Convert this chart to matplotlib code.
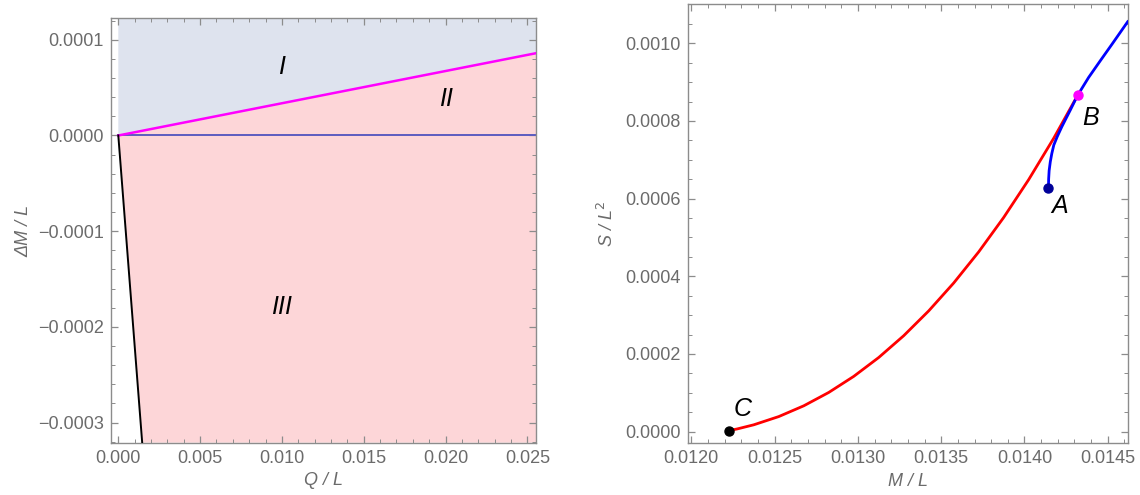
import matplotlib
matplotlib.use("Agg")
import matplotlib.pyplot as plt
from matplotlib.ticker import MultipleLocator, FuncFormatter

plt.rcParams['font.family'] = ['Liberation Sans', 'DejaVu Sans']

# ---------------- Left panel data ----------------
magenta_Q = [0.0, 0.02553]
magenta_dM = [0.0, 0.0000860]
black_Q = [0.0, 0.00146]
black_dM = [0.0, -0.000321]
zero_Q = [0.0, 0.02553]
zero_dM = [0.0, 0.0]
left_xlim = (-0.000465, 0.02553)
left_ylim = (-0.000321, 0.0001225)
region_labels = ["I", "II", "III"]
region_Q = [0.0100, 0.0200, 0.0100]
region_dM = [0.0000719, 0.0000380, -0.0001795]

# ---------------- Right panel data ----------------
red_M = [0.012225, 0.012275, 0.012375, 0.012525, 0.012675, 0.012825, 0.012975,
         0.013125, 0.013275, 0.013425, 0.013575, 0.013725, 0.013875, 0.014025,
         0.014175, 0.014319]
red_S = [0.0000026, 0.0000069, 0.0000176, 0.0000388, 0.0000665, 0.0001009,
         0.0001423, 0.0001909, 0.0002470, 0.0003109, 0.0003827, 0.0004628,
         0.0005514, 0.0006488, 0.0007551, 0.000866]
blue_M = [0.014144, 0.014145, 0.014148, 0.014155, 0.014164, 0.014176, 0.014197,
          0.014224, 0.014250, 0.014275, 0.014298, 0.014319, 0.014385, 0.014455,
          0.014526, 0.014622]
blue_S = [0.000628, 0.000650, 0.000672, 0.000695, 0.000716, 0.000738, 0.000760,
          0.000785, 0.000807, 0.000828, 0.000848, 0.000866, 0.000912, 0.000955,
          0.000998, 0.001057]
point_names = ["A", "B", "C"]
point_M = [0.014144, 0.014319, 0.012225]
point_S = [0.000628, 0.000866, 0.0000026]
point_colors = ["#000099", "#ff00ff", "#000000"]
label_M = [0.014213, 0.014399, 0.012305]
label_S = [0.000581, 0.000807, 0.0000576]
right_xlim = (0.01198, 0.014623)
right_ylim = (-0.0000301, 0.0011004)

GRAY = "#6b6b6b"
FRAME = "#8c8c8c"

fig = plt.figure(figsize=(11.4, 4.95), dpi=100)
axL = fig.add_axes([0.0971, 0.1057, 0.3731, 0.8574])
axR = fig.add_axes([0.6035, 0.1044, 0.3862, 0.8869])


def fmt(dec):
    def f(v, pos):
        s = f"{v:.{dec}f}"
        if float(s) == 0:
            s = f"{0:.{dec}f}"
        return s.replace("-", "\u2212")
    return FuncFormatter(f)


def style(ax):
    for sp in ax.spines.values():
        sp.set_color(FRAME)
        sp.set_linewidth(1.0)
    ax.tick_params(which='both', direction='in', top=True, right=True,
                   color=FRAME, labelcolor=GRAY, labelsize=13, pad=5)
    ax.tick_params(which='major', length=5, width=0.9)
    ax.tick_params(which='minor', length=3, width=0.7)


# ---------------- Left panel ----------------
ax = axL
ax.set_xlim(*left_xlim)
ax.set_ylim(*left_ylim)
ytop = left_ylim[1]
ybot = left_ylim[0]
# region I (above magenta line)
ax.fill([magenta_Q[0], magenta_Q[1], magenta_Q[1], magenta_Q[0]],
        [magenta_dM[0], magenta_dM[1], ytop, ytop],
        color="#dee3ee", lw=0, zorder=0)
# regions II + III (below magenta line, right of black line)
ax.fill([magenta_Q[0], magenta_Q[1], magenta_Q[1], black_Q[1]],
        [magenta_dM[0], magenta_dM[1], ybot, black_dM[1]],
        color="#fdd6d8", lw=0, zorder=0)
ax.plot(zero_Q, zero_dM, color="#5c5cc0", lw=1.4, zorder=2)
ax.plot(magenta_Q, magenta_dM, color="#ff00ff", lw=1.8, zorder=3)
ax.plot(black_Q, black_dM, color="black", lw=1.4, zorder=3)
for t, q, d in zip(region_labels, region_Q, region_dM):
    ax.text(q, d, t, fontsize=18, style='italic', color='black',
            ha='center', va='center')
style(ax)
ax.xaxis.set_major_locator(MultipleLocator(0.005))
ax.xaxis.set_minor_locator(MultipleLocator(0.001))
ax.yaxis.set_major_locator(MultipleLocator(0.0001))
ax.yaxis.set_minor_locator(MultipleLocator(0.00002))
ax.xaxis.set_major_formatter(fmt(3))
ax.yaxis.set_major_formatter(fmt(4))
ax.set_xlabel("Q / L", fontsize=13, style='italic', color=GRAY, labelpad=4)
ax.set_ylabel("\u0394M / L", fontsize=13, style='italic', color=GRAY, labelpad=4)

# ---------------- Right panel ----------------
ax = axR
ax.set_xlim(*right_xlim)
ax.set_ylim(*right_ylim)
ax.plot(red_M, red_S, color="#ff0000", lw=2.0, zorder=2,
        solid_joinstyle='round', solid_capstyle='round')
ax.plot(blue_M, blue_S, color="#0000ff", lw=2.0, zorder=3,
        solid_joinstyle='round', solid_capstyle='round')
for m, s, c in zip(point_M, point_S, point_colors):
    ax.plot([m], [s], 'o', color=c, ms=6.5, zorder=4, clip_on=False)
for t, m, s in zip(point_names, label_M, label_S):
    ax.text(m, s, t, fontsize=18, style='italic', color='black',
            ha='center', va='center')
style(ax)
ax.xaxis.set_major_locator(MultipleLocator(0.0005))
ax.xaxis.set_minor_locator(MultipleLocator(0.0001))
ax.yaxis.set_major_locator(MultipleLocator(0.0002))
ax.yaxis.set_minor_locator(MultipleLocator(0.00005))
ax.xaxis.set_major_formatter(fmt(4))
ax.yaxis.set_major_formatter(fmt(4))
ax.set_xlabel("M / L", fontsize=13, style='italic', color=GRAY, labelpad=4)
ax.set_ylabel("S / L$^{2}$", fontsize=13, style='italic', color=GRAY, labelpad=6)

fig.savefig("out.png", dpi=100)
